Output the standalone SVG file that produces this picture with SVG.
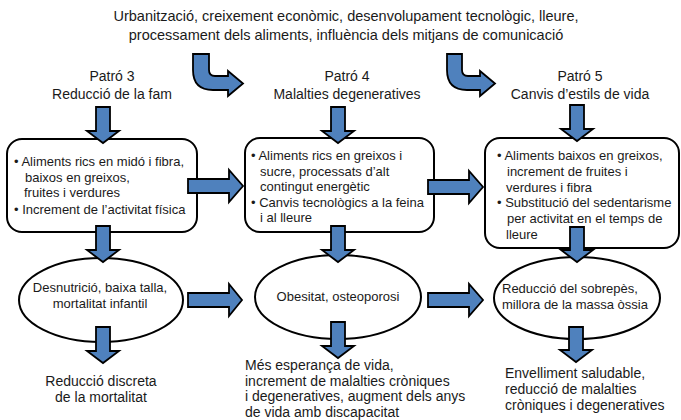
<svg xmlns="http://www.w3.org/2000/svg" width="681" height="420" viewBox="0 0 681 420">
<style>
text{font-family:"Liberation Sans",Arial,sans-serif;fill:#1a1a1a}
.t{font-size:14px}
.tt{font-size:14.5px;text-anchor:middle}
.h{font-size:14px;text-anchor:middle}
.b{font-size:13px}
.m{text-anchor:middle}
.box{fill:#fff;stroke:#000;stroke-width:2}
.arr{fill:#4f81bd;stroke:#000;stroke-width:1.8;stroke-linejoin:miter}
</style>
<g id="title">
<text class="tt" x="346" y="21">Urbanització, creixement econòmic, desenvolupament tecnològic, lleure,</text>
<text class="tt" x="346" y="40">processament dels aliments, influència dels mitjans de comunicació</text>
</g>
<g id="head3"><text class="h" x="112" y="81">Patró 3</text><text class="h" x="112" y="99">Reducció de la fam</text></g>
<g id="head4"><text class="h" x="347" y="81">Patró 4</text><text class="h" x="347" y="99">Malalties degeneratives</text></g>
<g id="head5"><text class="h" x="580" y="81">Patró 5</text><text class="h" x="580" y="99">Canvis d’estils de vida</text></g>
<g id="box1">
<rect class="box" x="7" y="139" width="190" height="93" rx="15"/>
<text class="b" x="14" y="166">• Aliments rics en midó i fibra,</text>
<text class="b" x="25" y="181.5">baixos en greixos,</text>
<text class="b" x="24" y="197">fruites i verdures</text>
<text class="b" x="14" y="214">• Increment de l’activitat física</text>
</g>
<g id="box2">
<rect class="box" x="245" y="138" width="189" height="94" rx="15"/>
<text class="b" x="251" y="160">• Aliments rics en greixos i</text>
<text class="b" x="260" y="175.5">sucre, processats d’alt</text>
<text class="b" x="260" y="191">contingut energètic</text>
<text class="b" x="251" y="206.5">• Canvis tecnològics a la feina</text>
<text class="b" x="260" y="222">i al lleure</text>
</g>
<g id="box3">
<rect class="box" x="485" y="138" width="194" height="110" rx="15"/>
<text class="b" x="497" y="160">• Aliments baixos en greixos,</text>
<text class="b" x="507" y="175.8">increment de fruites i</text>
<text class="b" x="506" y="191.6">verdures i fibra</text>
<text class="b" x="497" y="207.4">• Substitució del sedentarisme</text>
<text class="b" x="507" y="223.2">per activitat en el temps de</text>
<text class="b" x="506" y="239">lleure</text>
</g>
<g id="ell1">
<ellipse class="box" cx="101" cy="300" rx="82" ry="42"/>
<text class="b m" x="100" y="292">Desnutrició, baixa talla,</text>
<text class="b m" x="100" y="308">mortalitat infantil</text>
</g>
<g id="ell2">
<ellipse class="box" cx="338" cy="297" rx="83" ry="42"/>
<text class="b m" x="338" y="301">Obesitat, osteoporosi</text>
</g>
<g id="ell3">
<ellipse class="box" cx="577" cy="298" rx="83" ry="41"/>
<text class="b" x="502" y="293">Reducció del sobrepès,</text>
<text class="b" x="502" y="309">millora de la massa òssia</text>
</g>
<g id="out1">
<text class="t m" x="101" y="386">Reducció discreta</text>
<text class="t m" x="101" y="402">de la mortalitat</text>
</g>
<g id="out2">
<text class="t" x="245" y="370">Més esperança de vida,</text>
<text class="t" x="245" y="385.5">increment de malalties cròniques</text>
<text class="t" x="245" y="401">i degeneratives, augment dels anys</text>
<text class="t" x="245" y="416.5">de vida amb discapacitat</text>
</g>
<g id="out3">
<text class="t" x="505" y="378">Envelliment saludable,</text>
<text class="t" x="505" y="394">reducció de malalties</text>
<text class="t" x="505" y="410">cròniques i degeneratives</text>
</g>
<g id="connectors">
<path class="arr" d="M193,54 L209,54 L209,70 Q209,76 215,76 L228,76 L228,71 L243,83.5 L228,96 L228,90 L213,90 Q193,90 193,70 Z"/>
<path class="arr" d="M447,54 L462,54 L462,70 Q462,76 468,76 L480,76 L480,71 L495,83.5 L480,96 L480,90 L467,90 Q447,90 447,70 Z"/>
<path class="arr" d="M96,107 L110,107 L110,131 L119,131 L103,143 L87,131 L96,131 Z"/>
<path class="arr" d="M331,107 L345,107 L345,131 L354,131 L338,143 L322,131 L331,131 Z"/>
<path class="arr" d="M570,105 L584,105 L584,129 L593,129 L577,141 L561,129 L570,129 Z"/>
<path class="arr" d="M96,226 L110,226 L110,250 L119,250 L103,262 L87,250 L96,250 Z"/>
<path class="arr" d="M331,226 L345,226 L345,250 L354,250 L338,262 L322,250 L331,250 Z"/>
<path class="arr" d="M570,227 L584,227 L584,250 L593,250 L577,262 L561,250 L570,250 Z"/>
<path class="arr" d="M96,327 L110,327 L110,351 L119,351 L103,363 L87,351 L96,351 Z"/>
<path class="arr" d="M331,322 L345,322 L345,346 L354,346 L338,358 L322,346 L331,346 Z"/>
<path class="arr" d="M569,327 L583,327 L583,350 L592,350 L576,362 L560,350 L569,350 Z"/>
<path class="arr" d="M188,179 L229,179 L229,170 L243,186 L229,202 L229,193 L188,193 Z"/>
<path class="arr" d="M428,180 L469,180 L469,171 L483,187 L469,203 L469,194 L428,194 Z"/>
<path class="arr" d="M188,293 L229,293 L229,284 L242,300 L229,316 L229,307 L188,307 Z"/>
<path class="arr" d="M428,293 L469,293 L469,284 L483,300 L469,316 L469,307 L428,307 Z"/>
</g>
</svg>
